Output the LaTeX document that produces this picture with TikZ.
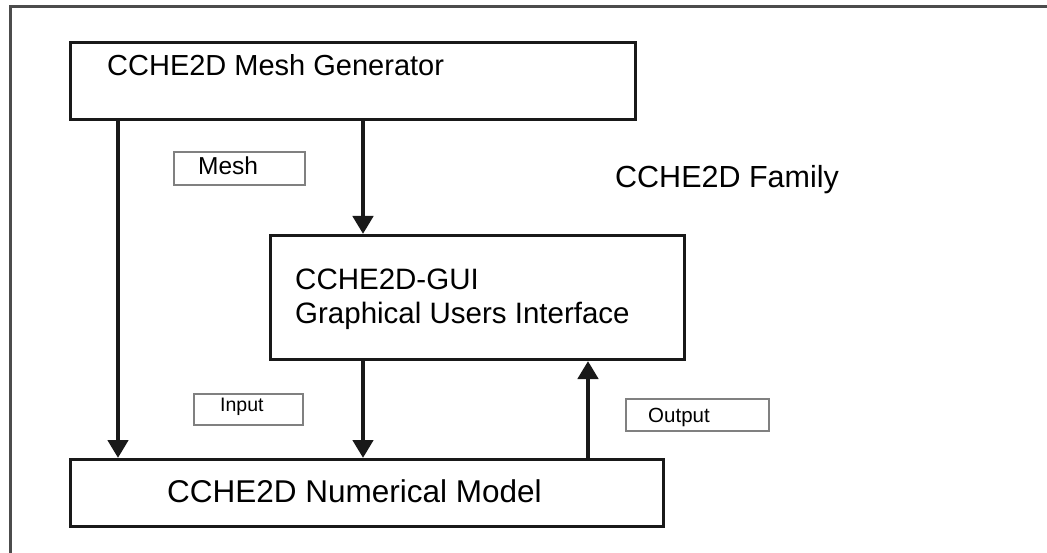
\documentclass[tikz,border=0pt]{standalone}
\usepackage{fontspec}
\setmainfont{Liberation Sans}
\usetikzlibrary{arrows.meta}
\begin{document}
\begin{tikzpicture}[x=1pt,y=-1pt,
  mainbox/.style={draw=black!90, line width=3pt, rectangle, inner sep=0pt, anchor=north west},
  lblbox/.style={draw=black!50, line width=2pt, rectangle, inner sep=0pt, anchor=north west},
  arr/.style={line width=4.5pt, black!90, -{Triangle[length=18pt,width=20pt]}},
  txt/.style={inner sep=0pt, anchor=base west, font=\fontsize{29}{34}\selectfont}
]
\useasboundingbox (0,0) rectangle (1047,553);
% outer frame
\draw[line width=3pt, black!70] (10,560) -- (10,7) -- (1060,7);
% main boxes
\node[mainbox, minimum width=565pt, minimum height=77pt] (mg) at (69,41) {};
\node[mainbox, minimum width=414pt, minimum height=124pt] (gui) at (269,234) {};
\node[mainbox, minimum width=593pt, minimum height=67pt] (nm) at (69,458) {};
% texts
\node[txt] (mgt) at (107,76) {CCHE2D Mesh Generator};
\node[txt, font=\fontsize{29.5}{34}\selectfont] (guit1) at (295,290) {CCHE2D-GUI};
\node[txt, font=\fontsize{29.5}{34}\selectfont] (guit2) at (295,324) {Graphical Users Interface};
\node[txt, font=\fontsize{31.5}{36}\selectfont] (nmt) at (167,502) {CCHE2D Numerical Model};
\node[txt, font=\fontsize{30.5}{36}\selectfont] (fam) at (615,188) {CCHE2D Family};
% label boxes
\node[lblbox, minimum width=131pt, minimum height=33pt] (lmesh) at (173,151) {};
\node[txt, font=\fontsize{24.5}{30}\selectfont] (lmesht) at (198,175) {Mesh};
\node[lblbox, minimum width=109pt, minimum height=31pt] (linput) at (193,393) {};
\node[txt, font=\fontsize{19.5}{24}\selectfont] (linputt) at (220,411) {Input};
\node[lblbox, minimum width=143pt, minimum height=32pt] (loutput) at (625,398) {};
\node[txt, font=\fontsize{20.5}{24}\selectfont] (loutputt) at (648,422) {Output};
% arrow columns
\coordinate (c1) at (118,0);
\coordinate (c2) at (363,0);
\coordinate (c3) at (588,0);
\draw[arr] (mg.south -| c1) -- (nm.north -| c1);
\draw[arr] (mg.south -| c2) -- (gui.north -| c2);
\draw[arr] (gui.south -| c2) -- (nm.north -| c2);
\draw[arr] (nm.north -| c3) -- (gui.south -| c3);
\end{tikzpicture}
\end{document}
